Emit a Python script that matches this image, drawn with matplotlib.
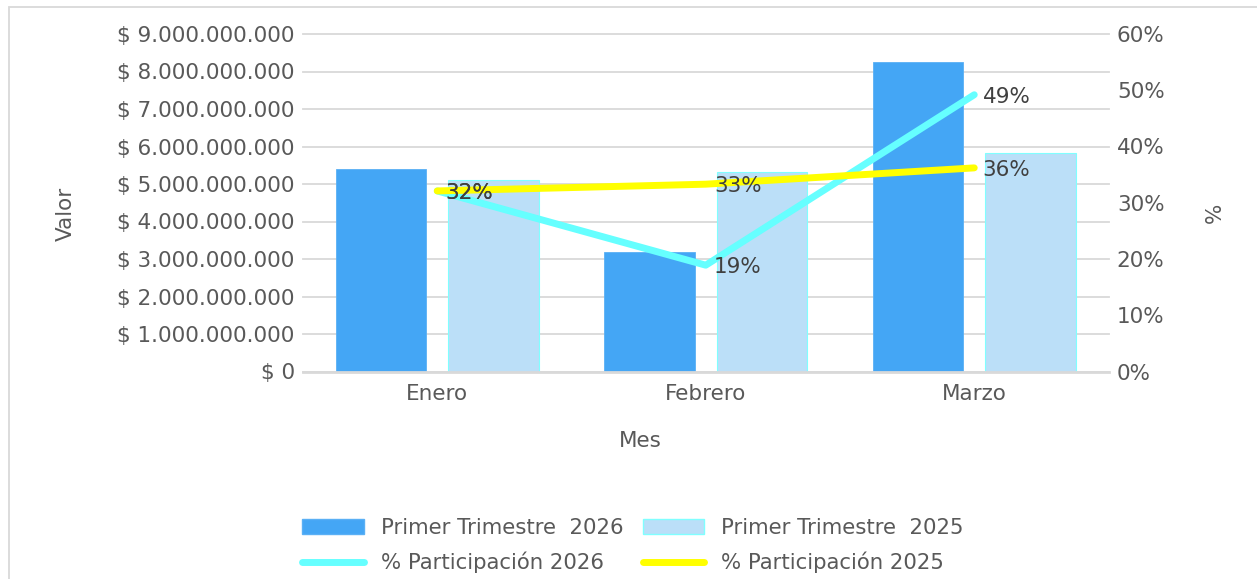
import numpy as np
import matplotlib
matplotlib.use("Agg")
import matplotlib.pyplot as plt
from matplotlib.patches import Rectangle, Patch
from matplotlib.lines import Line2D
from matplotlib.ticker import FuncFormatter

# data
meses = ["Enero", "Febrero", "Marzo"]
valor_2026 = [5.40e9, 3.19e9, 8.26e9]
valor_2025 = [5.12e9, 5.32e9, 5.82e9]
part_2026 = [0.321, 0.189, 0.492]
part_2025 = [0.321, 0.333, 0.362]
serie_labels = ["Primer Trimestre  2026", "Primer Trimestre  2025",
                "% Participación 2026", "% Participación 2025"]

azul = "#44A6F5"
azul_claro = "#BBDFF8"
cian = "#66FFFF"
amarillo = "#FFFF00"
gris_txt = "#595959"
gris_lin = "#D9D9D9"

plt.rcParams["font.family"] = ["DejaVu Sans"]
fig = plt.figure(figsize=(12.57, 5.79), dpi=100)

# chart border (cut off at right / bottom like the reference)
fig.patches.append(Rectangle((9 / 1257, -0.1), 1.2, 1 - 7 / 579 + 0.1,
                             transform=fig.transFigure, fill=False,
                             edgecolor=gris_lin, linewidth=1.3))

ax = fig.add_axes([303 / 1257, 1 - 371.5 / 579, (1108.5 - 303) / 1257, (371.5 - 34) / 579])
x = np.arange(len(meses))
w = 0.337
off = 0.209
ax.bar(x - off, valor_2026, w, color=azul, edgecolor="#5AB0F5", linewidth=0.6, zorder=2)
ax.bar(x + off, valor_2025, w, color=azul_claro, edgecolor="#80FFFF", linewidth=0.8, zorder=2)

ax.set_xlim(-0.5, 2.5)
ax.set_ylim(0, 9e9)
ax.set_yticks(np.arange(0, 9.01e9, 1e9))
ax.yaxis.set_major_formatter(FuncFormatter(
    lambda v, p: "$ " + "{:,.0f}".format(v).replace(",", ".")))
ax.set_xticks(x)
ax.set_xticklabels(meses)
ax.yaxis.grid(True, color=gris_lin, linewidth=1.3, zorder=0)
for gl in ax.get_ygridlines():
    gl.set_clip_on(False)
ax.set_axisbelow(True)
for s in ["top", "right", "left"]:
    ax.spines[s].set_visible(False)
ax.spines["bottom"].set_color(gris_lin)
ax.spines["bottom"].set_linewidth(2)
ax.tick_params(axis="y", length=0, pad=6, labelsize=15.5, labelcolor=gris_txt)
ax.tick_params(axis="x", length=0, pad=9, labelsize=15.5, labelcolor=gris_txt)

ax2 = ax.twinx()
ax2.set_ylim(0, 0.6)
ax2.set_yticks(np.arange(0, 0.61, 0.1))
ax2.yaxis.set_major_formatter(FuncFormatter(lambda v, p: "{:.0f}%".format(v * 100)))
for s in ax2.spines.values():
    s.set_visible(False)
ax2.tick_params(axis="y", length=0, pad=6, labelsize=15.5, labelcolor=gris_txt)

ax2.plot(x, part_2026, color=cian, linewidth=5, solid_capstyle="round",
         solid_joinstyle="round", zorder=3)
ax2.plot(x, part_2025, color=amarillo, linewidth=5, solid_capstyle="round",
         solid_joinstyle="round", zorder=4)
for serie in (part_2026, part_2025):
    for xi, v in zip(x, serie):
        ax2.annotate("{:.0f}%".format(v * 100), (xi, v), xytext=(6, -1.5),
                     textcoords="offset points", ha="left", va="center",
                     fontsize=15.5, color="#404040", zorder=5)

fig.text(66 / 1257, 1 - 214 / 579, "Valor", rotation=90, ha="center", va="center",
         fontsize=15.5, color=gris_txt)
fig.text(1215 / 1257, 1 - 213 / 579, "%", rotation=90, ha="center", va="center",
         fontsize=15.5, color=gris_txt)
fig.text(640 / 1257, 1 - 441 / 579, "Mes", ha="center", va="center",
         fontsize=15.5, color=gris_txt)

handles = [Patch(facecolor=azul, edgecolor="#5AB0F5"),
           Patch(facecolor=azul_claro, edgecolor="#80FFFF"),
           Line2D([], [], color=cian, linewidth=5, solid_capstyle="round"),
           Line2D([], [], color=amarillo, linewidth=5, solid_capstyle="round")]
# matplotlib fills legend columns first; reorder so rows read bars / lines
orden = [0, 2, 1, 3]
leg = fig.legend([handles[i] for i in orden], [serie_labels[i] for i in orden],
                 ncol=2, loc="center",
                 bbox_to_anchor=(633 / 1257, 1 - 545.5 / 579), frameon=False,
                 fontsize=15.3, handlelength=2.9, handletextpad=0.8,
                 columnspacing=0.9, labelspacing=0.68)
for t in leg.get_texts():
    t.set_color(gris_txt)

fig.savefig("out.png", dpi=100)
